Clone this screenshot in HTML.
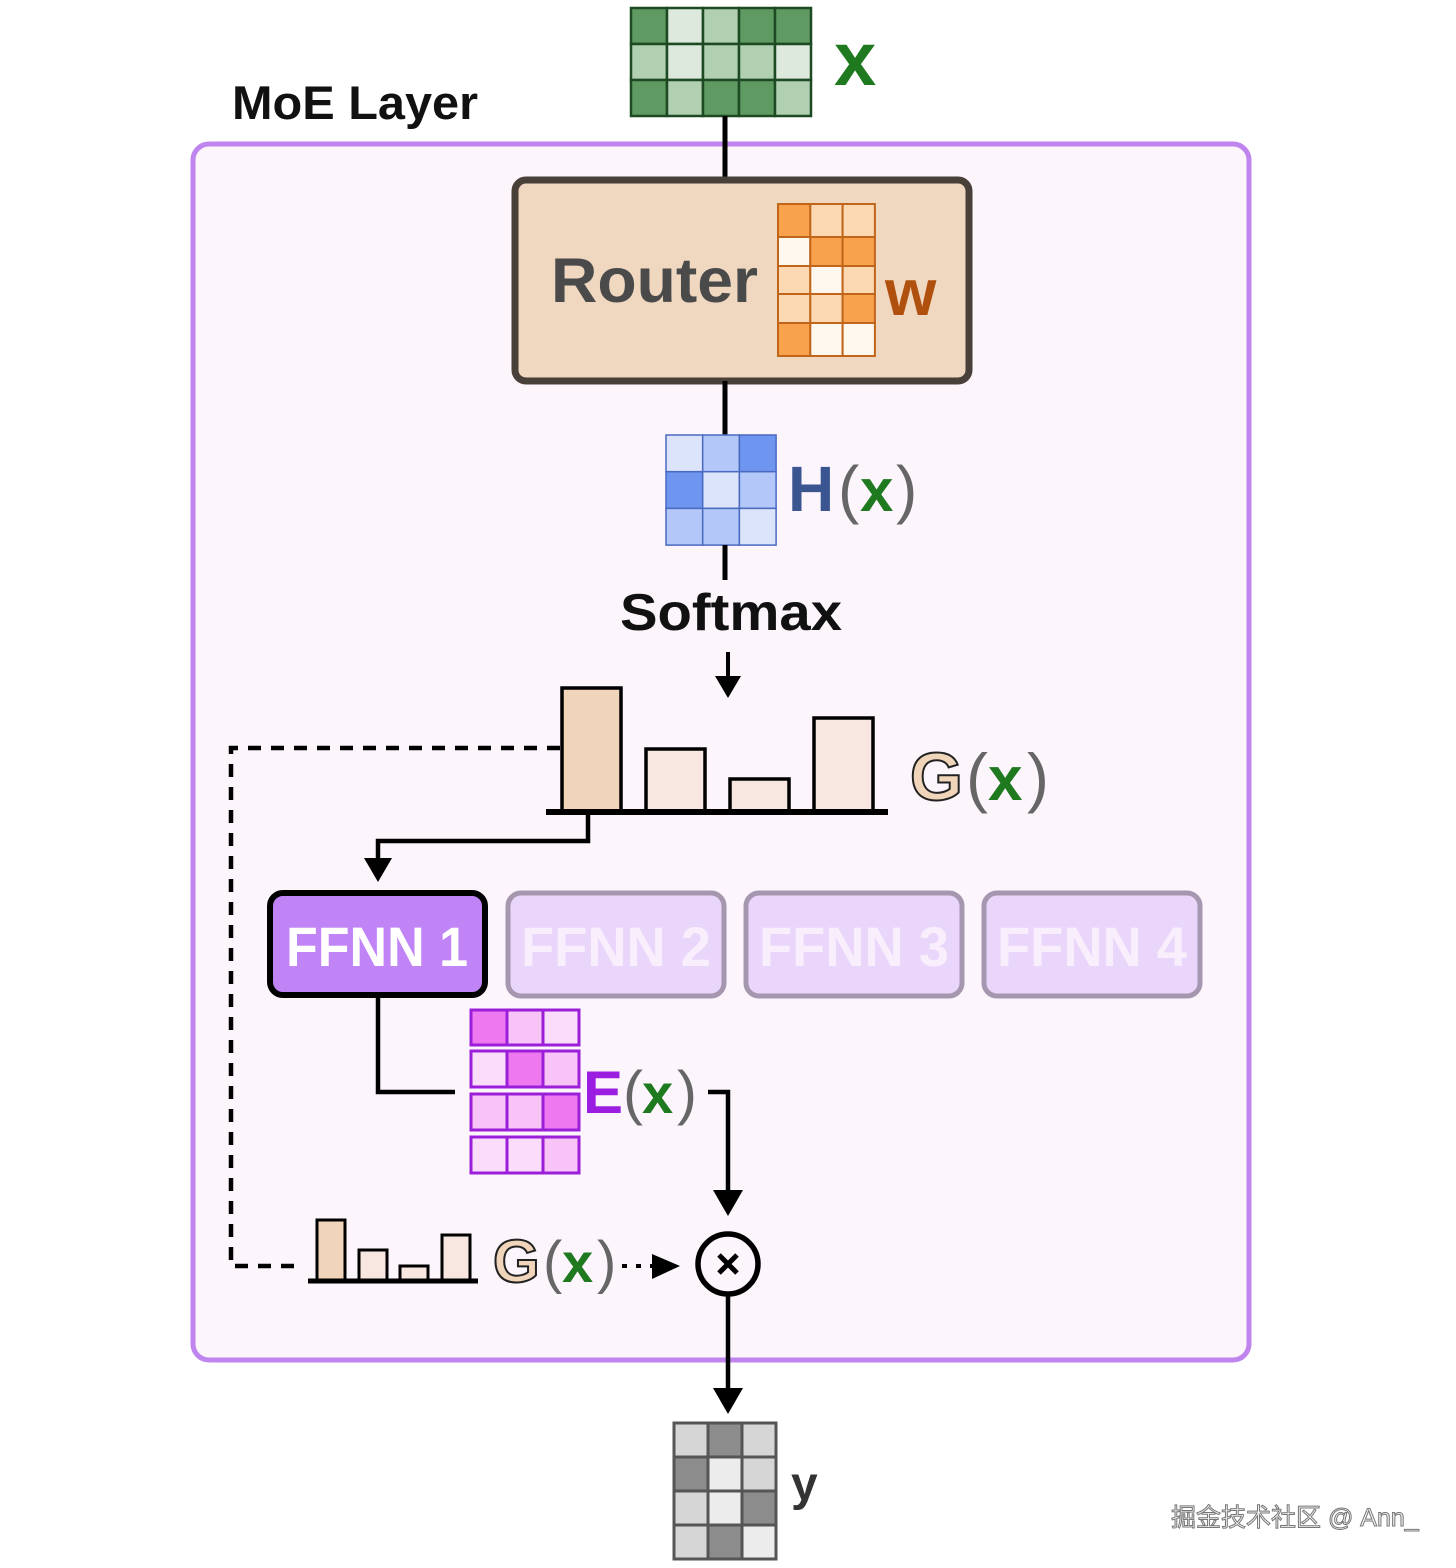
<!DOCTYPE html>
<html><head><meta charset="utf-8"><style>
html,body{margin:0;padding:0;background:#fff;}
svg{display:block;}
text{font-family:"Liberation Sans","Noto Sans CJK SC",sans-serif;}
</style></head><body>
<svg width="1456" height="1568" viewBox="0 0 1456 1568" xmlns="http://www.w3.org/2000/svg">
<!-- MoE outer box -->
<rect x="193" y="144" width="1056" height="1216" rx="16" fill="#fcf5fc" stroke="#c084ee" stroke-width="5"/>
<text x="232" y="119" font-size="47" font-weight="bold" fill="#111" textLength="246" lengthAdjust="spacingAndGlyphs">MoE Layer</text>

<!-- X grid -->
<g stroke="#1d4a22" stroke-width="2.5">
<rect x="631" y="8" width="36" height="36" fill="#5e9a62"/><rect x="667" y="8" width="36" height="36" fill="#dce9dc"/><rect x="703" y="8" width="36" height="36" fill="#b1d0b2"/><rect x="739" y="8" width="36" height="36" fill="#5e9a62"/><rect x="775" y="8" width="36" height="36" fill="#5e9a62"/>
<rect x="631" y="44" width="36" height="36" fill="#b1d0b2"/><rect x="667" y="44" width="36" height="36" fill="#dce9dc"/><rect x="703" y="44" width="36" height="36" fill="#b1d0b2"/><rect x="739" y="44" width="36" height="36" fill="#b1d0b2"/><rect x="775" y="44" width="36" height="36" fill="#dce9dc"/>
<rect x="631" y="80" width="36" height="36" fill="#5e9a62"/><rect x="667" y="80" width="36" height="36" fill="#b1d0b2"/><rect x="703" y="80" width="36" height="36" fill="#5e9a62"/><rect x="739" y="80" width="36" height="36" fill="#5e9a62"/><rect x="775" y="80" width="36" height="36" fill="#b1d0b2"/>
</g>
<text x="834" y="85" font-size="76" font-weight="bold" fill="#1f7a1f">x</text>

<line x1="725" y1="116" x2="725" y2="180" stroke="#000" stroke-width="5"/>
<!-- Router -->
<rect x="515" y="180" width="454" height="201" rx="11" fill="#f0d8c0" stroke="#4a403a" stroke-width="7"/>
<text x="551" y="302" font-size="63" font-weight="bold" fill="#4a4a4a" textLength="207" lengthAdjust="spacingAndGlyphs">Router</text>
<g stroke="#c0651a" stroke-width="2">
<rect x="778" y="204" width="32.3" height="33" fill="#f9a24e"/><rect x="810.3" y="204" width="32.3" height="33" fill="#fcd9b2"/><rect x="842.6" y="204" width="32.3" height="33" fill="#fcd9b2"/>
<rect x="778" y="237" width="32.3" height="29" fill="#fff8ee"/><rect x="810.3" y="237" width="32.3" height="29" fill="#f9a24e"/><rect x="842.6" y="237" width="32.3" height="29" fill="#f9a24e"/>
<rect x="778" y="266" width="32.3" height="28" fill="#fcd9b2"/><rect x="810.3" y="266" width="32.3" height="28" fill="#fff8ee"/><rect x="842.6" y="266" width="32.3" height="28" fill="#fcd9b2"/>
<rect x="778" y="294" width="32.3" height="29" fill="#fcd9b2"/><rect x="810.3" y="294" width="32.3" height="29" fill="#fcd9b2"/><rect x="842.6" y="294" width="32.3" height="29" fill="#f9a24e"/>
<rect x="778" y="323" width="32.3" height="33" fill="#f9a24e"/><rect x="810.3" y="323" width="32.3" height="33" fill="#fff8ee"/><rect x="842.6" y="323" width="32.3" height="33" fill="#fff8ee"/>
</g>
<text x="885" y="315" font-size="66" font-weight="bold" fill="#b0500f">w</text>

<line x1="725" y1="381" x2="725" y2="436" stroke="#000" stroke-width="5"/>
<!-- H grid -->
<g stroke="#4a6ac0" stroke-width="1.5">
<rect x="666" y="435" width="36.7" height="36.7" fill="#dce4fb"/><rect x="702.7" y="435" width="36.7" height="36.7" fill="#b3c8f8"/><rect x="739.4" y="435" width="36.7" height="36.7" fill="#6e95f0"/>
<rect x="666" y="471.7" width="36.7" height="36.7" fill="#6e95f0"/><rect x="702.7" y="471.7" width="36.7" height="36.7" fill="#dce4fb"/><rect x="739.4" y="471.7" width="36.7" height="36.7" fill="#b3c8f8"/>
<rect x="666" y="508.4" width="36.7" height="36.7" fill="#b3c8f8"/><rect x="702.7" y="508.4" width="36.7" height="36.7" fill="#b3c8f8"/><rect x="739.4" y="508.4" width="36.7" height="36.7" fill="#dce4fb"/>
</g>
<text x="788" y="511" font-size="64" fill="#3b5591" font-weight="bold">H</text>
<text x="838" y="511" font-size="64" fill="#666">(</text>
<text x="860" y="511" font-size="60" font-weight="bold" fill="#1f7a1f">x</text>
<text x="896" y="511" font-size="64" fill="#666">)</text>

<line x1="725" y1="545" x2="725" y2="580" stroke="#000" stroke-width="5"/>
<text x="620" y="630" font-size="52" font-weight="bold" fill="#111" textLength="222" lengthAdjust="spacingAndGlyphs">Softmax</text>
<line x1="728" y1="652" x2="728" y2="680" stroke="#000" stroke-width="4"/>
<polygon points="715,676 741,676 728,698" fill="#000"/>

<!-- bars -->
<g stroke="#000" stroke-width="3.5">
<rect x="562" y="688" width="59" height="124" fill="#f0d5bb"/>
<rect x="646" y="749" width="59" height="63" fill="#f8e6e0"/>
<rect x="730" y="779" width="59" height="33" fill="#f8e6e0"/>
<rect x="814" y="718" width="59" height="94" fill="#f8e6e0"/>
</g>
<line x1="546" y1="812" x2="888" y2="812" stroke="#000" stroke-width="6"/>
<text x="910" y="800" font-size="68" font-weight="bold" fill="#f0d5bb" stroke="#222" stroke-width="2">G</text>
<text x="966" y="800" font-size="66" fill="#666">(</text>
<text x="988" y="800" font-size="62" font-weight="bold" fill="#1f7a1f">x</text>
<text x="1027" y="800" font-size="66" fill="#666">)</text>

<!-- dashed -->
<polyline points="560,748 231,748 231,1266 300,1266" fill="none" stroke="#000" stroke-width="4.5" stroke-dasharray="13,10"/>
<polyline points="588,812 588,841 378,841 378,862" fill="none" stroke="#000" stroke-width="4.5"/>
<polygon points="364,858 392,858 378,882" fill="#000"/>

<!-- FFNN boxes -->
<rect x="270" y="893" width="215" height="102" rx="13" fill="#c084f6" stroke="#000" stroke-width="6"/>
<text x="377" y="966" font-size="56" font-weight="bold" fill="#fff" text-anchor="middle" textLength="182" lengthAdjust="spacingAndGlyphs">FFNN 1</text>
<g fill="#ead6fa" stroke="#a697b0" stroke-width="5">
<rect x="508" y="893" width="216" height="103" rx="13"/>
<rect x="746" y="893" width="216" height="103" rx="13"/>
<rect x="984" y="893" width="216" height="103" rx="13"/>
</g>
<g font-size="56" font-weight="bold" fill="#f8eefc" text-anchor="middle">
<text x="616" y="966" textLength="190" lengthAdjust="spacingAndGlyphs">FFNN 2</text>
<text x="854" y="966" textLength="190" lengthAdjust="spacingAndGlyphs">FFNN 3</text>
<text x="1092" y="966" textLength="190" lengthAdjust="spacingAndGlyphs">FFNN 4</text>
</g>

<polyline points="378,997 378,1092 455,1092" fill="none" stroke="#000" stroke-width="4.5"/>
<!-- E grid -->
<g stroke="#9b1ed8" stroke-width="3">
<rect x="471" y="1010" width="36" height="35" fill="#ee78f0"/><rect x="507" y="1010" width="36" height="35" fill="#f8c4f8"/><rect x="543" y="1010" width="36" height="35" fill="#fbdcfb"/>
<rect x="471" y="1051" width="36" height="36" fill="#fbdcfb"/><rect x="507" y="1051" width="36" height="36" fill="#ee78f0"/><rect x="543" y="1051" width="36" height="36" fill="#f8c4f8"/>
<rect x="471" y="1094" width="36" height="36" fill="#f8c4f8"/><rect x="507" y="1094" width="36" height="36" fill="#f8c4f8"/><rect x="543" y="1094" width="36" height="36" fill="#ee78f0"/>
<rect x="471" y="1137" width="36" height="36" fill="#fbdcfb"/><rect x="507" y="1137" width="36" height="36" fill="#fbdcfb"/><rect x="543" y="1137" width="36" height="36" fill="#f8c4f8"/>
</g>
<text x="583" y="1113" font-size="60" font-weight="bold" fill="#9b1ee0">E</text>
<text x="623" y="1113" font-size="60" fill="#666">(</text>
<text x="642" y="1113" font-size="56" font-weight="bold" fill="#1f7a1f">x</text>
<text x="677" y="1113" font-size="60" fill="#666">)</text>
<polyline points="708,1092 728,1092 728,1196" fill="none" stroke="#000" stroke-width="4.5"/>
<polygon points="713,1190 743,1190 728,1216" fill="#000"/>

<circle cx="728" cy="1264" r="30" fill="#fcf5fc" stroke="#000" stroke-width="5.5"/>
<path d="M719,1255 L737,1273 M737,1255 L719,1273" stroke="#000" stroke-width="5"/>

<g stroke="#000" stroke-width="3">
<rect x="317" y="1220" width="28" height="61" fill="#f0d5bb"/>
<rect x="359" y="1250" width="28" height="31" fill="#f8e6e0"/>
<rect x="400" y="1266" width="28" height="15" fill="#f8e6e0"/>
<rect x="442" y="1235" width="28" height="46" fill="#f8e6e0"/>
</g>
<line x1="308" y1="1281" x2="478" y2="1281" stroke="#000" stroke-width="5"/>
<text x="493" y="1282" font-size="60" font-weight="bold" fill="#f0d5bb" stroke="#222" stroke-width="2">G</text>
<text x="543" y="1282" font-size="58" fill="#666">(</text>
<text x="562" y="1282" font-size="56" font-weight="bold" fill="#1f7a1f">x</text>
<text x="597" y="1282" font-size="58" fill="#666">)</text>
<line x1="622" y1="1266" x2="660" y2="1266" stroke="#000" stroke-width="4" stroke-dasharray="5,9"/>
<polygon points="652,1254 680,1266 652,1279" fill="#000"/>

<line x1="728" y1="1294" x2="728" y2="1392" stroke="#000" stroke-width="4.5"/>
<polygon points="713,1388 743,1388 728,1414" fill="#000"/>

<g stroke="#555" stroke-width="3">
<rect x="674" y="1423" width="34" height="34" fill="#d6d6d6"/><rect x="708" y="1423" width="34" height="34" fill="#8c8c8c"/><rect x="742" y="1423" width="34" height="34" fill="#d6d6d6"/>
<rect x="674" y="1457" width="34" height="34" fill="#8c8c8c"/><rect x="708" y="1457" width="34" height="34" fill="#ececec"/><rect x="742" y="1457" width="34" height="34" fill="#d6d6d6"/>
<rect x="674" y="1491" width="34" height="34" fill="#d6d6d6"/><rect x="708" y="1491" width="34" height="34" fill="#ececec"/><rect x="742" y="1491" width="34" height="34" fill="#8c8c8c"/>
<rect x="674" y="1525" width="34" height="34" fill="#d6d6d6"/><rect x="708" y="1525" width="34" height="34" fill="#8c8c8c"/><rect x="742" y="1525" width="34" height="34" fill="#ececec"/>
</g>
<text x="791" y="1500" font-size="48" font-weight="bold" fill="#333">y</text>

<text x="1171" y="1526" font-size="25" fill="#f4f4f4" stroke="#777" stroke-width="1">掘金技术社区 @ Ann_</text>
</svg>
</body></html>
